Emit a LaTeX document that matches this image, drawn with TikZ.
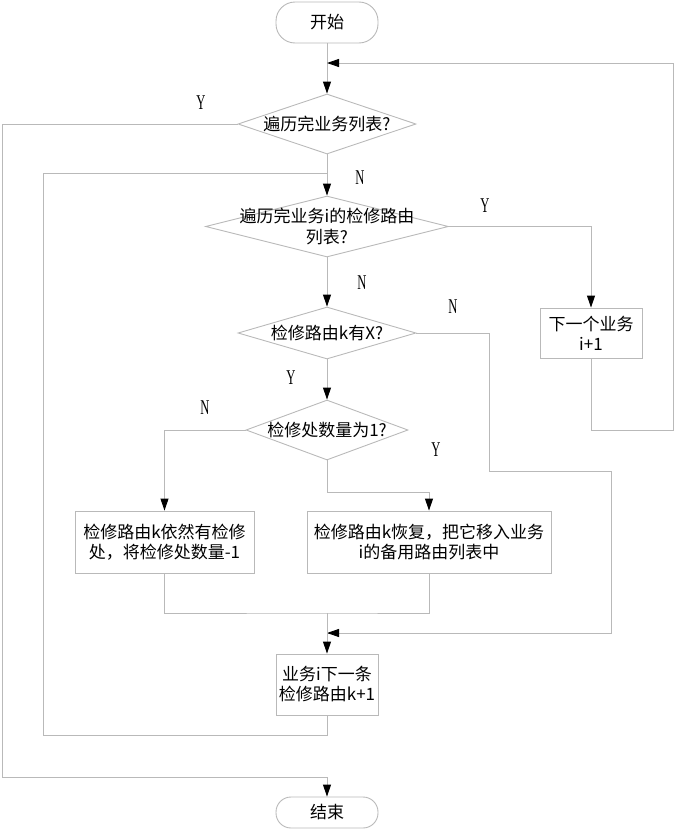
\documentclass[tikz,border=0pt]{standalone}
\usepackage{fontspec}
\setmainfont{Noto Sans CJK SC}
\newfontfamily\ynfam{Liberation Serif}
\usetikzlibrary{shapes.geometric,arrows.meta}
\definecolor{lnc}{RGB}{185,185,185}
\newcommand\dtxt[1]{\makebox[0pt]{\raisebox{-0.38em}[0pt][0pt]{\begin{tabular}{@{}c@{}}#1\end{tabular}}}}
\newcommand\ynbox[1]{\scalebox{0.6}[1]{#1}}
\begin{document}
\begin{tikzpicture}[x=1pt,y=-1pt,
  every node/.style={font=\fontsize{17}{20}\selectfont},
  ln/.style={draw=lnc,line width=0.9pt},
  arr/.style={ln,-{Triangle[length=12pt,width=8pt,black]}},
  term/.style={draw=lnc,line width=0.9pt,rectangle,rounded corners=15pt,minimum width=102pt,inner sep=0pt},
  dia/.style={draw=lnc,line width=0.9pt,diamond,inner sep=0pt},
  box/.style={draw=lnc,line width=0.9pt,rectangle,inner sep=0pt,align=center},
  yn/.style={font=\ynfam\fontsize{21}{22}\selectfont,inner sep=0pt}]
\useasboundingbox (0,0) rectangle (674,830);
% nodes
\node[term,minimum height=41pt,rounded corners=19pt] (start) at (327,22.5) {开始};
\node[dia,minimum width=178pt,minimum height=60pt] (d1) at (327,124) {\dtxt{遍历完业务列表?}};
\node[dia,minimum width=243pt,minimum height=61pt] (d2) at (327,226.5) {\dtxt{遍历完业务i的检修路由\\列表?}};
\node[dia,minimum width=178pt,minimum height=52pt] (d3) at (327,333) {\dtxt{检修路由k有X?}};
\node[dia,minimum width=162pt,minimum height=60pt] (d4) at (327,430) {\dtxt{检修处数量为1?}};
\node[box,minimum width=102pt,minimum height=50pt] (nb) at (591,333) {下一个业务\\i+1};
\node[box,minimum width=179pt,minimum height=62pt] (b1) at (164.5,542) {检修路由k依然有检修\\处，将检修处数量-1};
\node[box,minimum width=244pt,minimum height=62pt] (b2) at (429,542) {检修路由k恢复，把它移入业务\\i的备用路由列表中};
\node[box,minimum width=102pt,minimum height=61pt] (b3) at (327,684.5) {业务i下一条\\检修路由k+1};
\node[term,minimum height=31pt] (end) at (327,812.5) {结束};
% labels
\node[yn] (ly1) at (201,103) {\ynbox{Y}};
\node[yn] (ln1) at (360,178) {\ynbox{N}};
\node[yn] (ly2) at (485,206) {\ynbox{Y}};
\node[yn] (ln2) at (362,283) {\ynbox{N}};
\node[yn] (ln3) at (453,307) {\ynbox{N}};
\node[yn] (ly3) at (291,378) {\ynbox{Y}};
\node[yn] (ln4) at (205,408) {\ynbox{N}};
\node[yn] (ly4) at (436,450) {\ynbox{Y}};
% coordinates
\coordinate (j0) at (327,63);
\coordinate (j1) at (327,173);
\coordinate (j2) at (327,613);
\coordinate (j3) at (327,633);
% connectors
\draw[arr] (start) -- (d1);
\draw[arr] (d1) -- (d2);
\draw[arr] (d2) -- (d3);
\draw[arr] (d3) -- (d4);
\draw[arr] (d1.west) -- (2,124) -- (2,777) -- (327,777) -- (end.north);
\draw[arr] (d2.east) -| (nb.north);
\draw[arr] (nb.south) |- (673,430) -- (673,63) -- (j0);
\draw[ln] (d3.east) -- (489,333) -- (489,471) -- (611,471) -- (611,633) -- (327,633);
\draw[arr] (611,633) -- (j3);
\draw[arr] (d4.west) -| (b1.north);
\draw[arr] (d4.south) -- (327,492) -| (b2.north);
\draw[ln] (b1.south) |- (j2) -| (b2.south);
\draw[arr] (j2) -- (b3.north);
\draw[ln] (b3.south) -- (327,735) -- (43,735) -- (43,173) -- (j1);
\end{tikzpicture}
\end{document}
